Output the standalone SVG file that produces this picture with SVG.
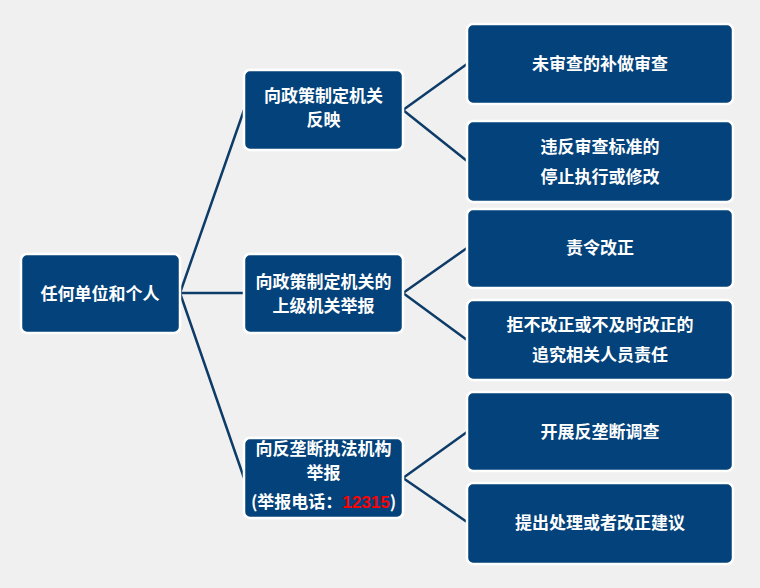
<svg xmlns="http://www.w3.org/2000/svg" width="760" height="588" viewBox="0 0 760 588">
<style>
.box{fill:#03427A;stroke:#ffffff;stroke-width:2.5}
.t{font-family:"Noto Sans CJK SC","Liberation Sans",sans-serif;font-size:17px;font-weight:bold;fill:#ffffff;text-anchor:middle}
.c{stroke:#0E3C68;stroke-width:2.5;fill:none}
.red{fill:#ff0000;font-family:"Liberation Sans",sans-serif}
</style>
<rect x="0" y="0" width="760" height="588" fill="#F0F0F0"/>
<g id="connectors">
<path class="c" d="M180,293 L244,110 M180,293 L244,293 M180,293 L244,478"/>
<path class="c" d="M403,110 L467,64 M403,110 L467,161"/>
<path class="c" d="M403,293 L467,248 M403,293 L467,340"/>
<path class="c" d="M403,478 L467,432 M403,478 L467,522"/>
</g>
<g id="root"><rect class="box" x="21" y="254" width="159" height="79" rx="6"/><text class="t" x="100" y="300">任何单位和个人</text></g>
<g id="m1"><rect class="box" x="244" y="70" width="159" height="80" rx="6"/><text class="t" x="323.5" y="102">向政策制定机关</text><text class="t" x="323.5" y="126">反映</text></g>
<g id="m2"><rect class="box" x="244" y="254" width="159" height="79" rx="6"/><text class="t" x="323.5" y="288">向政策制定机关的</text><text class="t" x="323.5" y="312">上级机关举报</text></g>
<g id="m3"><rect class="box" x="244" y="438" width="159" height="80" rx="6"/><text class="t" x="323.5" y="455">向反垄断执法机构</text><text class="t" x="323.5" y="479">举报</text><text class="t" x="323.5" y="508">(举报电话：<tspan class="red">12315</tspan>)</text></g>
<g id="r1"><rect class="box" x="467" y="24" width="266" height="80" rx="6"/><text class="t" x="600" y="70">未审查的补做审查</text></g>
<g id="r2"><rect class="box" x="467" y="121" width="266" height="81" rx="6"/><text class="t" x="600" y="153">违反审查标准的</text><text class="t" x="600" y="183">停止执行或修改</text></g>
<g id="r3"><rect class="box" x="467" y="209" width="266" height="79" rx="6"/><text class="t" x="600" y="254">责令改正</text></g>
<g id="r4"><rect class="box" x="467" y="300" width="266" height="80" rx="6"/><text class="t" x="600" y="331">拒不改正或不及时改正的</text><text class="t" x="600" y="361">追究相关人员责任</text></g>
<g id="r5"><rect class="box" x="467" y="392" width="266" height="79" rx="6"/><text class="t" x="600" y="438">开展反垄断调查</text></g>
<g id="r6"><rect class="box" x="467" y="483" width="266" height="81" rx="6"/><text class="t" x="600" y="529">提出处理或者改正建议</text></g>
</svg>
